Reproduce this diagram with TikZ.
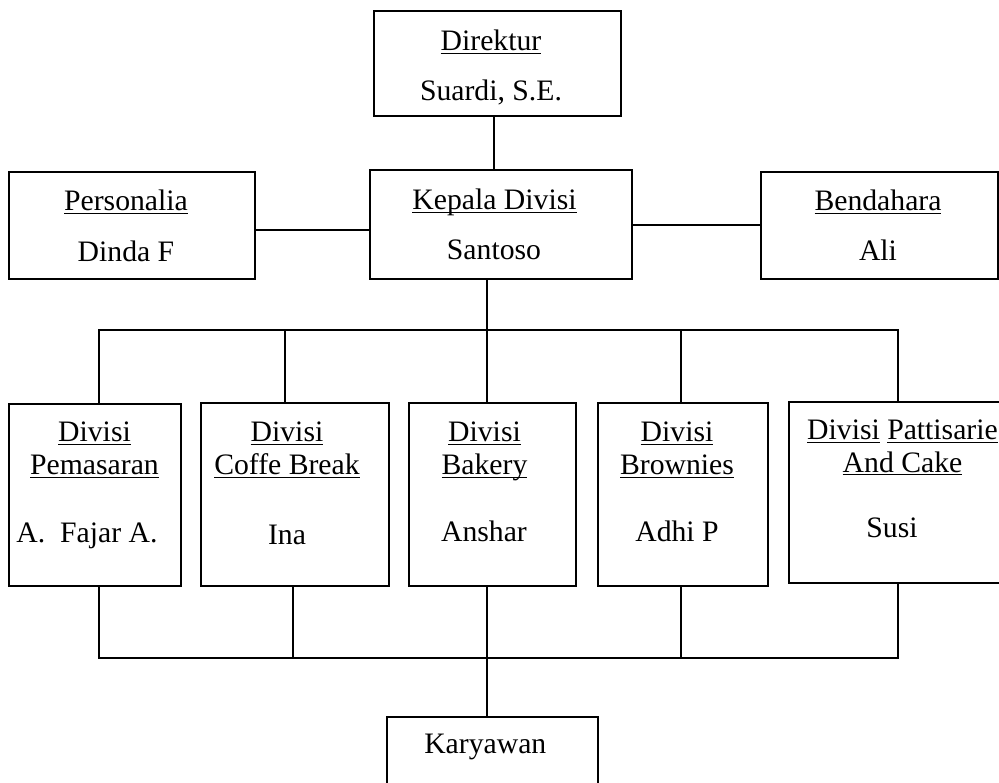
\documentclass[tikz,border=0pt]{standalone}
\usepackage{fontspec}
\setmainfont{Liberation Serif}
\usepackage{tikz}

% underline with a fixed rule, like a word processor
\newcommand{\garis}[1]{\setbox0\hbox{#1}\rlap{\rule[-3pt]{\wd0}{1.3pt}}\box0\relax}

\tikzset{
    box/.style={draw, line width=1.6pt, inner sep=0pt, outer sep=0pt},
    conn/.style={line width=2pt},
    teks/.style={anchor=base, inner sep=0pt, font=\fontsize{29.7}{33}\selectfont}
}

\begin{document}
\begin{tikzpicture}[x=1pt, y=-1pt]
    \useasboundingbox (0,0) rectangle (999,783);
    \clip (0,0) rectangle (999,783);

    \coordinate (atas) at (0,330);
    \coordinate (bawah) at (0,658);

    \node[box, minimum width=247, minimum height=105] (direktur) at (497.5,63.5) {};
    \node[box, minimum width=262, minimum height=109] (kepala) at (501,224.5) {};
    \node[box, minimum width=246, minimum height=107] (personalia) at (132,225.5) {};
    \node[box, minimum width=237, minimum height=107] (bendahara) at (879.5,225.5) {};

    \node[box, minimum width=172, minimum height=182] (pemasaran) at (95,495) {};
    \node[box, minimum width=188, minimum height=183] (coffe) at (295,494.5) {};
    \node[box, minimum width=167, minimum height=183] (bakery) at (492.5,494.5) {};
    \node[box, minimum width=170, minimum height=183] (brownies) at (683,494.5) {};
    \node[box, minimum width=223, minimum height=181] (pattisarie) at (900.5,492.5) {};

    \node[box, minimum width=211, minimum height=83] (karyawan) at (492.5,758.5) {};

    \draw[conn] (direktur.south -| 494,0) -- (kepala.north -| 494,0);
    \draw[conn] (personalia.east |- 0,230.5) -- (kepala.west |- 0,230.5);
    \draw[conn] (kepala.east |- 0,225) -- (bendahara.west |- 0,225);

    % top bus
    \draw[conn] (kepala.south -| 487,0) -- (atas -| 487,0);
    \draw[conn] (pemasaran.north -| 99,0) -- (atas -| 99,0)
        -- (atas -| 898,0) -- (pattisarie.north -| 898,0);
    \foreach \n/\xa in {coffe/285, bakery/487, brownies/681}
        \draw[conn] (atas -| \xa,0) -- (\n.north -| \xa,0);

    % bottom bus
    \draw[conn] (pemasaran.south -| 99,0) -- (bawah -| 99,0)
        -- (bawah -| 898,0) -- (pattisarie.south -| 898,0);
    \foreach \n/\xb in {coffe/293, bakery/487, brownies/681}
        \draw[conn] (\n.south -| \xb,0) -- (bawah -| \xb,0);
    \draw[conn] (bawah -| 487,0) -- (karyawan.north -| 487,0);

    \node[teks] (direktur-j) at (491,51) {\garis{Direktur}};
    \node[teks] (direktur-n) at (491,101) {Suardi, S.E.};
    \node[teks] (kepala-j) at (494.5,210) {\garis{Kepala Divisi}};
    \node[teks] (kepala-n) at (494,260) {Santoso};
    \node[teks] (personalia-j) at (126,211) {\garis{Personalia}};
    \node[teks] (personalia-n) at (126,261.5) {Dinda F};
    \node[teks] (bendahara-j) at (878,211) {\garis{Bendahara}};
    \node[teks] (bendahara-n) at (878,261) {Ali};

    \node[teks] (pemasaran-a) at (94.5,442) {\garis{Divisi}};
    \node[teks] (pemasaran-b) at (94.5,475) {\garis{Pemasaran}};
    \node[teks] (pemasaran-n) at (87,542) {A.\ \ Fajar A.};
    \node[teks] (coffe-a) at (287,442) {\garis{Divisi}};
    \node[teks] (coffe-b) at (287,475) {\garis{Coffe Break}};
    \node[teks] (coffe-n) at (287,544) {Ina};
    \node[teks] (bakery-a) at (484.5,442) {\garis{Divisi}};
    \node[teks] (bakery-b) at (484.5,475) {\garis{Bakery}};
    \node[teks] (bakery-n) at (484,541) {Anshar};
    \node[teks] (brownies-a) at (677,442) {\garis{Divisi}};
    \node[teks] (brownies-b) at (677,475) {\garis{Brownies}};
    \node[teks] (brownies-n) at (677,541) {Adhi P};
    \node[teks] (pattisarie-a) at (902.5,440) {\garis{Divisi} \garis{Pattisarie}};
    \node[teks] (pattisarie-b) at (902.5,472) {\garis{And Cake}};
    \node[teks] (pattisarie-n) at (892,537) {Susi};

    \node[teks] (karyawan-n) at (485.3,753) {Karyawan};
\end{tikzpicture}
\end{document}
